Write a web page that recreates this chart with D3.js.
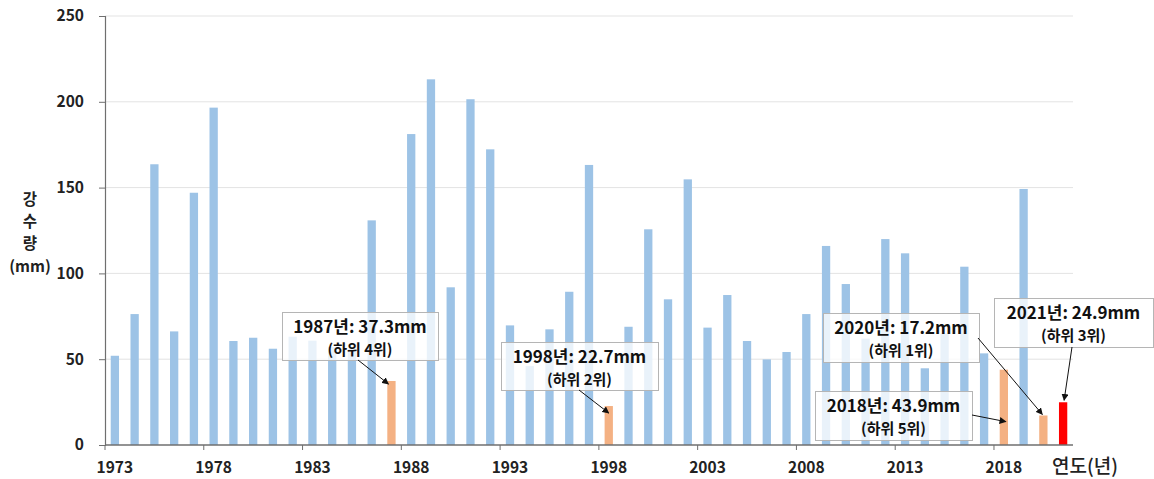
<!DOCTYPE html>
<html>
<head>
<meta charset="utf-8">
<script src="https://cdn.jsdelivr.net/npm/d3@7"></script>
<style>
  html, body { margin: 0; padding: 0; background: #fff; }
  svg text { font-family: "Noto Sans CJK KR", "Noto Sans", sans-serif; }
</style>
</head>
<body>
<svg id="chart" width="1154" height="479"></svg>
<script>
// ---- data ----
const years = d3.range(1973, 2022);
const rainfall = [
  52.0, 76.3, 163.6, 66.2, 147.0, 196.6, 60.6, 62.5, 56.1, 63.1,
  60.8, 57.0, 56.0, 130.9, 37.3, 181.2, 213.1, 91.9, 201.5, 172.3,
  69.7, 46.0, 67.4, 89.3, 163.2, 22.7, 68.9, 125.7, 84.9, 154.8,
  68.4, 87.4, 60.6, 49.9, 54.2, 76.3, 116.0, 93.8, 62.0, 120.0,
  111.7, 44.7, 65.0, 103.9, 53.4, 43.9, 149.2, 17.2, 24.9
];
const lowYears = [1987, 1998, 2018, 2020];
const currentYear = 2021;
const yTicks = [0, 50, 100, 150, 200, 250];
const xTickYears = [1973, 1978, 1983, 1988, 1993, 1998, 2003, 2008, 2013, 2018];
const yTitleLines = ["강", "수", "량", "(mm)"];
const xTitle = "연도(년)";
const annYears = [1987, 1998, 2018, 2020, 2021];
const annTitles = ["1987년: 37.3mm", "1998년: 22.7mm", "2018년: 43.9mm", "2020년: 17.2mm", "2021년: 24.9mm"];
const annRanks = ["(하위 4위)", "(하위 2위)", "(하위 5위)", "(하위 1위)", "(하위 3위)"];

// ---- layout (annotation boxes: x, y, w, h ; arrow start x,y ; arrow tip offset from bar top centre) ----
const annBoxes = [
  [282, 312, 156, 48], [501, 342, 157, 48], [815, 391, 157, 49], [823, 313, 156, 49], [994, 298, 159, 49]
];
const annStarts = [[358, 360], [579, 390], [972, 415], [978, 338], [1072, 347]];
const annTips = [[-3, 3], [0, 7], [2, 52], [-1, -1], [1, -2]];

const svg = d3.select("#chart");
const x = d3.scaleBand().domain(years).range([105, 1073]).padding(0);
const y = d3.scaleLinear().domain([0, 250]).range([445, 16]);
const bw = x.bandwidth();

// gridlines
svg.append("g").selectAll("line").data(yTicks.filter(d => d > 0)).join("line")
  .attr("x1", 105).attr("x2", 1073)
  .attr("y1", d => y(d)).attr("y2", d => y(d))
  .attr("stroke", "#e3e3e3").attr("stroke-width", 1);

// bars
const color = yr => yr === currentYear ? "#ff0000" : (lowYears.includes(yr) ? "#f4b183" : "#9dc3e6");
svg.append("g").selectAll("rect").data(years).join("rect")
  .attr("x", d => x(d) + bw * 0.29)
  .attr("width", bw * 0.42)
  .attr("y", (d, i) => y(rainfall[i]))
  .attr("height", (d, i) => y(0) - y(rainfall[i]))
  .attr("fill", d => color(d));

// y axis
const yAxis = svg.append("g").attr("transform", "translate(105,0)")
  .call(d3.axisLeft(y).tickValues(yTicks).tickSize(6).tickPadding(15));
yAxis.select(".domain").attr("stroke", "#6f6f6f").attr("stroke-width", 1.2);
yAxis.selectAll(".tick line").attr("stroke", "#6f6f6f");
yAxis.selectAll(".tick text")
  .attr("font-size", 15.5).attr("font-weight", "bold").attr("fill", "#222")
  .style("font-family", '"Noto Sans CJK KR", sans-serif');

// x axis line and ticks
svg.append("line").attr("x1", 105).attr("x2", 1073).attr("y1", y(0)).attr("y2", y(0))
  .attr("stroke", "#6f6f6f").attr("stroke-width", 1.5);
svg.append("g").selectAll("line").data(xTickYears).join("line")
  .attr("x1", d => x(d)).attr("x2", d => x(d))
  .attr("y1", y(0)).attr("y2", y(0) + 5)
  .attr("stroke", "#6f6f6f");
svg.append("g").selectAll("text").data(xTickYears).join("text")
  .attr("x", d => x(d) + bw / 2).attr("y", 473)
  .attr("text-anchor", "middle")
  .attr("font-size", 15.5).attr("font-weight", "bold").attr("fill", "#222")
  .text(d => d);

// axis titles (one text element, stacked lines)
const yt = svg.append("text").attr("x", 30).attr("y", 205)
  .attr("text-anchor", "middle")
  .attr("font-size", 15.5).attr("font-weight", "bold").attr("fill", "#222");
yt.selectAll("tspan").data(yTitleLines).join("tspan")
  .attr("x", 30).attr("dy", (d, i) => [0, 22, 22, 22.5][i])
  .text(d => d);
svg.append("text").attr("x", 1085).attr("y", 473).attr("text-anchor", "middle")
  .attr("font-size", 19).attr("font-weight", 500).attr("fill", "#222").text(xTitle);

// arrow marker
svg.append("defs").append("marker")
  .attr("id", "arr").attr("viewBox", "0 0 10 10").attr("refX", 9).attr("refY", 5)
  .attr("markerWidth", 7).attr("markerHeight", 7).attr("orient", "auto-start-reverse")
  .attr("markerUnits", "userSpaceOnUse")
  .append("path").attr("d", "M0,0 L10,5 L0,10 z").attr("fill", "#111");

// annotations
const ann = svg.append("g");
annYears.forEach((yr, i) => {
  const [bx, by, w, h] = annBoxes[i];
  const v = rainfall[years.indexOf(yr)];
  ann.append("rect").attr("x", bx + 0.5).attr("y", by + 0.5).attr("width", w).attr("height", h)
    .attr("fill", "#fff").attr("fill-opacity", 0.78)
    .attr("stroke", "#b5b5b5").attr("stroke-width", 1);
  const t = ann.append("text").attr("x", bx + w / 2).attr("y", by + 21).attr("text-anchor", "middle")
    .attr("font-weight", "bold").attr("fill", "#111");
  t.append("tspan").attr("x", bx + w / 2).attr("font-size", 17).text(annTitles[i]);
  t.append("tspan").attr("x", bx + w / 2).attr("dy", 21.5).attr("font-size", 15).text(annRanks[i]);
  const tx = x(yr) + bw / 2 + annTips[i][0];
  const ty = y(v) + annTips[i][1];
  ann.append("line").attr("x1", annStarts[i][0]).attr("y1", annStarts[i][1])
    .attr("x2", tx).attr("y2", ty)
    .attr("stroke", "#111").attr("stroke-width", 1)
    .attr("marker-end", "url(#arr)");
});
</script>
</body>
</html>
